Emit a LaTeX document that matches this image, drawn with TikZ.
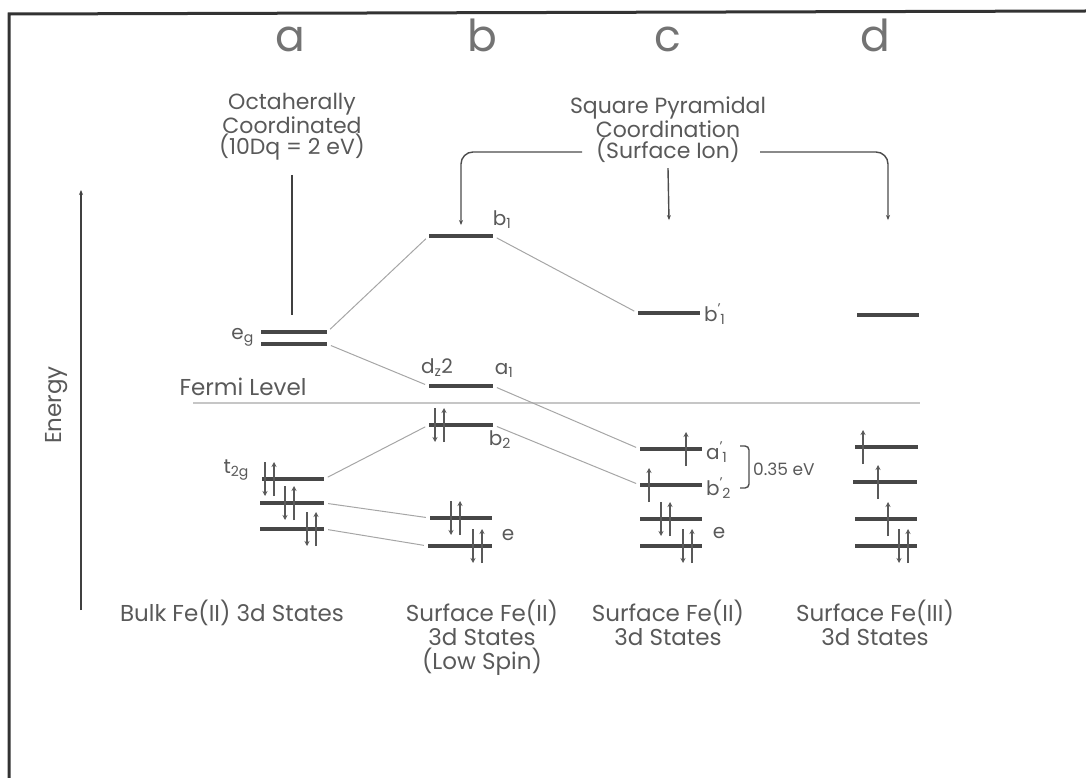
\documentclass[tikz,border=0pt]{standalone}
\usepackage{fontspec}
\setmainfont{Poppins}
\usetikzlibrary{arrows.meta}

% electron spins: x, y of the level
\newcommand{\spinup}[2]{\draw[spin] (#1,#2+17) -- (#1,#2-17);}
\newcommand{\spindn}[2]{\draw[spin] (#1,#2-17) -- (#1,#2+17);}
\newcommand{\spinpair}[2]{\spindn{#1}{#2}\spinup{#1+9}{#2}}

\begin{document}
\begin{tikzpicture}[x=1pt, y=-1pt, font=\fontsize{23}{21}\selectfont]
    % Styles
    \tikzset{
      level/.style={fill=black!72, inner sep=0pt, minimum height=3.5pt},
      link/.style={gray!70, line width=1pt, shorten <=4pt, shorten >=4pt},
      spin/.style={black!65, line width=1.5pt, -{Stealth[length=5pt,width=5pt]}},
      bracket/.style={black!70, line width=1.4pt, rounded corners=12pt, -{Stealth[length=5pt,width=4pt]}},
      txt/.style={text=black!65, align=center, inner sep=0pt},
      sym/.style={text=black!65, inner sep=0pt, font=\fontsize{20}{20}\selectfont},
      col/.style={text=black!55, inner sep=0pt, font=\fontsize{44}{44}\selectfont}
    }
    \useasboundingbox (0,0) rectangle (1086,778);

    % Frame (top and left edges)
    \draw[black!80, line width=3pt] (9,778) -- (9,14) -- (1086,11);

    % Column letters
    \node[col, anchor=base] (la) at (290,52) {a};
    \node[col, anchor=base] (lb) at (482,52) {b};
    \node[col, anchor=base] (lc) at (668,52) {c};
    \node[col, anchor=base] (ld) at (875,52) {d};

    % Coordination headings
    \node[txt, font=\fontsize{22}{20.5}\selectfont] (octa) at (292,127) {Octaherally\\Coordinated\\(10Dq = 2 eV)};
    \node[txt, font=\fontsize{22}{20.5}\selectfont] (sqpyr) at (668,130) {Square Pyramidal\\Coordination\\(Surface Ion)};

    % Energy axis
    \draw[black!75, line width=1.5pt, -{Stealth[length=5pt,width=4pt]}] (81,610) -- (81,190);
    \node[txt, rotate=90] (energy) at (57,405) {Energy};

    % Fermi level
    \node[txt] (fermi) at (243,387) {Fermi Level};
    \draw[gray!45, line width=2pt] (193,403) -- (920,403);

    % Column a: bulk levels
    \node[level, minimum width=66pt] (eg1) at (294,332) {};
    \node[level, minimum width=66pt] (eg2) at (294,344) {};
    \node[level, minimum width=62pt] (t1) at (293,479) {};
    \node[level, minimum width=64pt] (t2) at (292,503) {};
    \node[level, minimum width=64pt] (t3) at (292,529) {};
    \node[sym, anchor=east] at (254,337) {e\textsubscript{g}};
    \node[sym, anchor=east] at (249,470) {t\textsubscript{2g}};

    % Column b: surface, low spin
    \node[level, minimum width=64pt] (b1) at (461,236) {};
    \node[level, minimum width=64pt] (dz) at (461,386) {};
    \node[level, minimum width=64pt] (b2) at (461,425) {};
    \node[level, minimum width=62pt] (e1) at (461,518) {};
    \node[level, minimum width=64pt] (e2) at (460,546) {};
    \node[sym] at (502,220) {b\textsubscript{1}};
    \node[sym] at (437,368) {d\textsubscript{z}2};
    \node[sym] at (504,370) {a\textsubscript{1}};
    \node[sym] at (500,440) {b\textsubscript{2}};
    \node[sym] at (508,535) {e};

    % Column c: surface Fe(II)
    \node[level, minimum width=62pt] (cb1) at (669,313) {};
    \node[level, minimum width=62pt] (ca1) at (671,449) {};
    \node[level, minimum width=62pt] (cb2) at (671,485) {};
    \node[level, minimum width=62pt] (ce1) at (671,519) {};
    \node[level, minimum width=62pt] (ce2) at (671,546) {};
    \node[sym, anchor=west] at (704,314) {b\textsuperscript{'}\kern-1pt\textsubscript{1}};
    \node[sym, anchor=west] at (706,452) {a\textsuperscript{'}\kern-1pt\textsubscript{1}};
    \node[sym, anchor=west] at (706,488) {b\textsuperscript{'}\kern-1pt\textsubscript{2}};
    \node[sym] at (719,533) {e};
    \draw[black!70, line width=1.4pt, rounded corners=4pt] (740,446) -- (749,446) -- (749,488) -- (740,488);
    \node[sym, anchor=west, font=\fontsize{17}{17}\selectfont] at (753,469) {0.35 eV};

    % Column d: surface Fe(III)
    \node[level, minimum width=62pt] (d1) at (888,315) {};
    \node[level, minimum width=63pt] (d2) at (886,447) {};
    \node[level, minimum width=64pt] (d3) at (885,482) {};
    \node[level, minimum width=62pt] (d4) at (886,519) {};
    \node[level, minimum width=62pt] (d5) at (886,546) {};

    % Spins
    \spinpair{265}{479} \spinpair{285}{503} \spinpair{307}{529}
    \spinpair{435}{425} \spinpair{451}{518} \spinpair{473}{546}
    \spinup{686}{449} \spinup{649}{485} \spinpair{661}{519} \spinpair{683}{546}
    \spinup{863}{447} \spinup{878}{482} \spinup{888}{519} \spinpair{899}{546}

    % Correlation lines
    \draw[link] (eg1.east) -- (b1.west);
    \draw[link] (eg2.east) -- (dz.west);
    \draw[link] (b1.east) -- (cb1.west);
    \draw[link] (dz.east) -- (ca1.west);
    \draw[link] (b2.east) -- (cb2.west);
    \draw[link] (t1.east) -- (b2.west);
    \draw[link] (t2.east) -- (e1.west);
    \draw[link] (t3.east) -- (e2.west);

    % Heading pointers
    \draw[black!75, line width=1.5pt] ([yshift=-14pt]octa.south) -- ([yshift=15pt]octa.south |- eg1.north);
    \coordinate (sqL) at (582,152);
    \coordinate (sqR) at (760,152);
    \draw[bracket] (sqL) -| ([yshift=9pt]b1.north);
    \draw[bracket] ([yshift=-5pt]sqpyr.south) -- ([yshift=91pt]cb1.north);
    \draw[bracket] (sqR) -| ([yshift=93pt]d1.north);

    % Bottom captions
    \node[txt, anchor=north, font=\fontsize{23}{24}\selectfont] (bulk) at (232,600) {Bulk Fe(II) 3d States};
    \node[txt, anchor=north, font=\fontsize{23}{24}\selectfont] (surfb) at (482,600) {Surface Fe(II)\\3d States\\(Low Spin)};
    \node[txt, anchor=north, font=\fontsize{23}{24}\selectfont] (surfc) at (668,600) {Surface Fe(II)\\3d States};
    \node[txt, anchor=north, font=\fontsize{23}{24}\selectfont] (surfd) at (875,600) {Surface Fe(III)\\3d States};
\end{tikzpicture}
\end{document}
